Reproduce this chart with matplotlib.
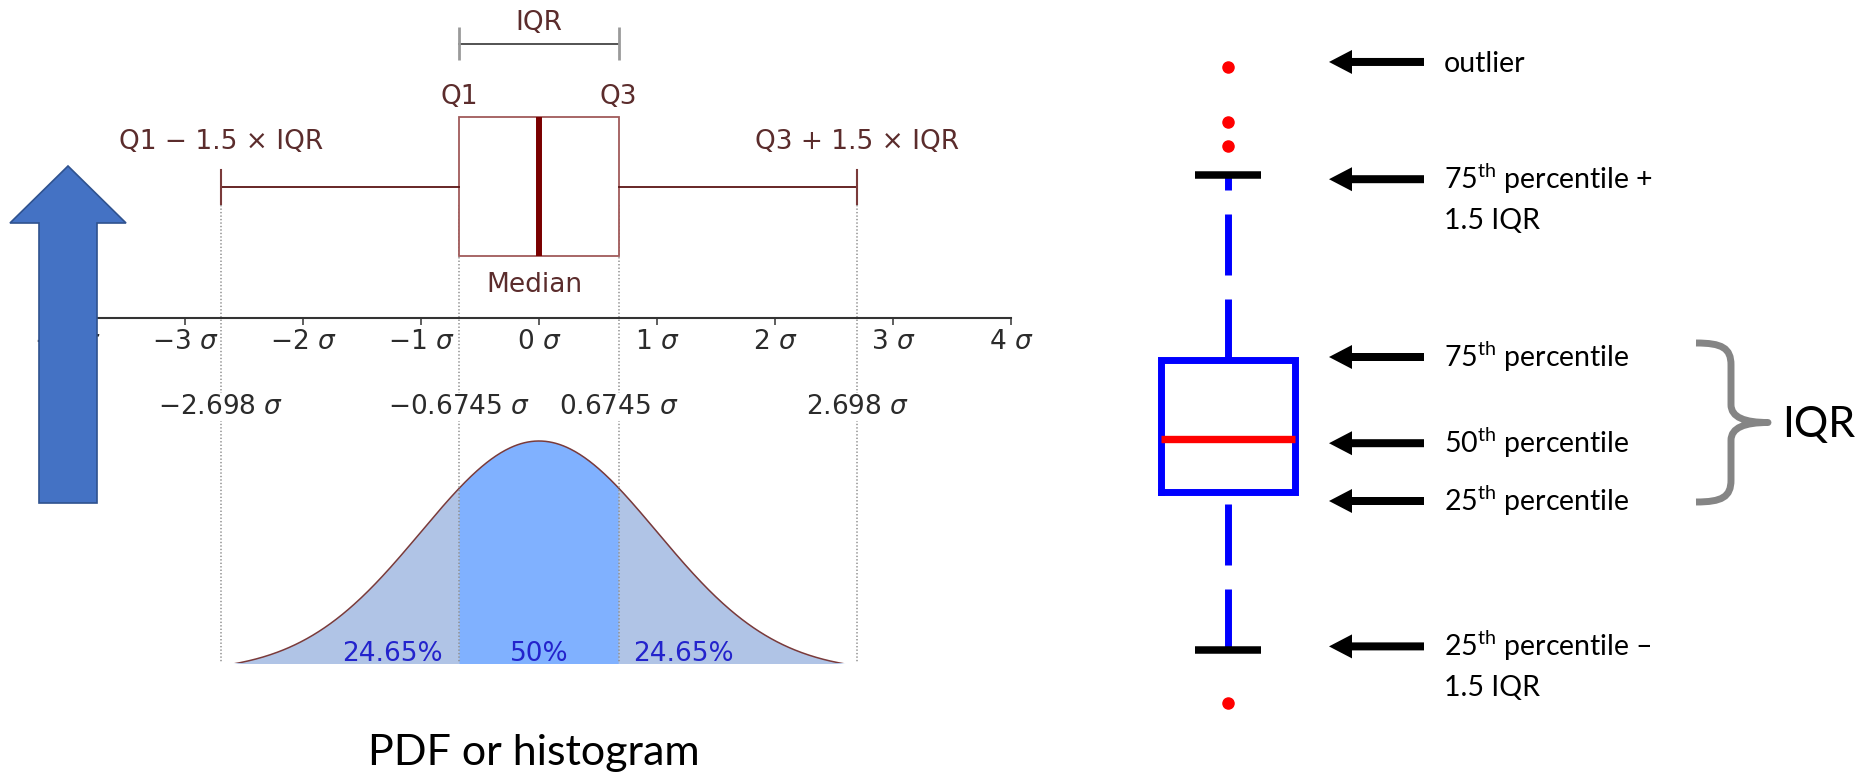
import numpy as np
import matplotlib
matplotlib.use('Agg')
import matplotlib.pyplot as plt
from matplotlib.patches import Polygon, PathPatch
from matplotlib.path import Path

# ---------------- data ----------------
sigma_ticks = [-4, -3, -2, -1, 0, 1, 2, 3, 4]
sigma_tick_labels = ['−4 $\\sigma$', '−3 $\\sigma$', '−2 $\\sigma$', '−1 $\\sigma$', '0 $\\sigma$',
                     '1 $\\sigma$', '2 $\\sigma$', '3 $\\sigma$', '4 $\\sigma$']
quantile_marks = [-2.698, -0.6745, 0.6745, 2.698]
quantile_labels = ['−2.698 $\\sigma$', '−0.6745 $\\sigma$', '0.6745 $\\sigma$', '2.698 $\\sigma$']
normal_q1, normal_median, normal_q3 = -0.6745, 0.0, 0.6745
normal_whislo, normal_whishi = -2.698, 2.698
area_labels = ['24.65%', '50%', '24.65%']

right_q1, right_median, right_q3 = 25, 45, 75
right_whislo, right_whishi = -35, 145
right_outliers = [186, 165, 156, -55]
right_labels = ['outlier',
                '75$^{\\mathrm{th}}$ percentile +\n1.5 IQR',
                '75$^{\\mathrm{th}}$ percentile',
                '50$^{\\mathrm{th}}$ percentile',
                '25$^{\\mathrm{th}}$ percentile',
                '25$^{\\mathrm{th}}$ percentile –\n1.5 IQR']

caption = 'PDF or histogram'

# ---------------- layout ----------------
W, H = 1864, 773
PT = 0.72                     # points per pixel at dpi=100
Z0_PX, PX_PER_SIGMA = 539, 118
LEFT_W = 1100
AXIS_PY = 318

plt.rcParams['mathtext.fontset'] = 'custom'
plt.rcParams['mathtext.rm'] = 'Lato'
plt.rcParams['mathtext.it'] = 'DejaVu Sans:italic'
plt.rcParams['lines.scale_dashes'] = False

fig = plt.figure(figsize=(W / 100, H / 100), dpi=100)

sig_lo = (0 - Z0_PX) / PX_PER_SIGMA
sig_hi = (LEFT_W - Z0_PX) / PX_PER_SIGMA

# ---- PDF axes (bottom-left) ----
PDF_TOP_PY, PDF_CROP_PY, PDF_BASE_PY, PDF_PEAK_PY = 430, 663, 672, 441
peak = 1 / np.sqrt(2 * np.pi)
dens_per_px = peak / (PDF_BASE_PY - PDF_PEAK_PY)
ax_pdf = fig.add_axes([0, 1 - PDF_CROP_PY / H, LEFT_W / W, (PDF_CROP_PY - PDF_TOP_PY) / H], zorder=0)
ax_pdf.set_xlim(sig_lo, sig_hi)
ax_pdf.set_ylim((PDF_BASE_PY - PDF_CROP_PY) * dens_per_px, (PDF_BASE_PY - PDF_TOP_PY) * dens_per_px)
ax_pdf.axis('off')


def normal_pdf(x):
    return np.exp(-x ** 2 / 2) / np.sqrt(2 * np.pi)


for a, b, col in [(-4, normal_q1, '#b0c4e6'), (normal_q1, normal_q3, '#80b1ff'), (normal_q3, 4, '#b0c4e6')]:
    zz = np.linspace(a, b, 300)
    ax_pdf.fill_between(zz, 0, normal_pdf(zz), color=col, lw=0.6, edgecolor=col)
z = np.linspace(-4, 4, 800)
ax_pdf.plot(z, normal_pdf(z), color='#7a3a3a', lw=1.1)

# ---- left main axes ----
ax_L = fig.add_axes([0, 0, LEFT_W / W, 1], zorder=1)
ax_L.patch.set_visible(False)
ax_L.set_xlim(sig_lo, sig_hi)
ax_L.set_ylim(H, 0)
for s in ['top', 'left', 'right']:
    ax_L.spines[s].set_visible(False)
ax_L.spines['bottom'].set_position(('data', AXIS_PY))
ax_L.spines['bottom'].set_bounds((97 - Z0_PX) / PX_PER_SIGMA, sigma_ticks[-1])
ax_L.spines['bottom'].set_color('#333333')
ax_L.spines['bottom'].set_linewidth(1.5)
ax_L.set_yticks([])
ax_L.set_xticks(sigma_ticks)
ax_L.set_xticklabels(sigma_tick_labels)
fs = 19
ax_L.tick_params(axis='x', direction='out', length=5, width=1.1, color='#333333',
                 labelsize=fs, labelcolor='#2b2b2b', pad=3)

# dotted guide lines
ax_L.vlines(quantile_marks, 205, PDF_CROP_PY, colors='#8f8f8f', linestyles=(0, (1, 1.5)), lw=1.1)

# box plot of the normal distribution
BOX_CY, BOX_H, CAP_H = 186.5, 139, 34
stats = [dict(med=normal_median, q1=normal_q1, q3=normal_q3,
              whislo=normal_whislo, whishi=normal_whishi, fliers=[])]
ax_L.bxp(stats, positions=[BOX_CY], widths=BOX_H, capwidths=CAP_H,
         orientation='horizontal', showfliers=False, patch_artist=True,
         boxprops=dict(facecolor='white', edgecolor='#a05a5a', linewidth=1.3),
         medianprops=dict(color='#7a0000', linewidth=4.3, solid_capstyle='butt'),
         whiskerprops=dict(color='#5a1515', linewidth=1.3),
         capprops=dict(color='#7a3a3a', linewidth=1.5), manage_ticks=False)

lab_col = '#5b2c2c'
# IQR bracket
ax_L.plot([normal_q1, normal_q3], [44, 44], color='#444444', lw=1.3)
ax_L.vlines([normal_q1, normal_q3], 27, 60, colors='#9a9a9a', lw=2)
ax_L.text((normal_q1 + normal_q3) / 2, 23, 'IQR', ha='center', va='center', fontsize=fs, color=lab_col)
ax_L.text(normal_q1, 97, 'Q1', ha='center', va='center', fontsize=fs, color=lab_col)
ax_L.text(normal_q3, 97, 'Q3', ha='center', va='center', fontsize=fs, color=lab_col)
ax_L.text(normal_whislo, 142, 'Q1 − 1.5 × IQR', ha='center', va='center', fontsize=fs, color=lab_col)
ax_L.text(normal_whishi, 142, 'Q3 + 1.5 × IQR', ha='center', va='center', fontsize=fs, color=lab_col)
ax_L.text(normal_median - 0.04, 285, 'Median', ha='center', va='center', fontsize=fs, color=lab_col)

for q, lab in zip(quantile_marks, quantile_labels):
    ax_L.text(q, 407, lab, ha='center', va='center', fontsize=fs, color='#2b2b2b',
              bbox=dict(facecolor='white', edgecolor='none', pad=1))

area_x = [-1.24, 0.0, 1.22]
for xa, lab in zip(area_x, area_labels):
    ax_L.text(xa, 661, lab, ha='center', va='baseline', fontsize=fs, color='#2323cc')

# ---- right box plot ----
Q1_PX, Q3_PX = 492, 360
ppu = (Q1_PX - Q3_PX) / (right_q3 - right_q1)
v_top = right_q1 + Q1_PX / ppu
v_bot = v_top - H / ppu
RX0 = LEFT_W
ax_R = fig.add_axes([RX0 / W, 0, (W - RX0) / W, 1], zorder=2)
ax_R.set_xlim(RX0, W)
ax_R.set_ylim(v_bot, v_top)
ax_R.axis('off')

BOX_X = 1228
rstats = [dict(med=right_median, q1=right_q1, q3=right_q3, whislo=right_whislo,
               whishi=right_whishi, fliers=right_outliers)]
res = ax_R.bxp(rstats, positions=[BOX_X], widths=134, capwidths=66, manage_ticks=False,
               boxprops=dict(color='#0000ff', linewidth=5.0, solid_joinstyle='miter'),
               medianprops=dict(color='#ff0000', linewidth=5.3, solid_capstyle='butt'),
               whiskerprops=dict(color='#0000ff', linewidth=5.0, dash_capstyle='butt'),
               capprops=dict(color='black', linewidth=5.4, solid_capstyle='butt'),
               flierprops=dict(marker='o', markerfacecolor='#ff0000', markeredgecolor='#ff0000',
                               markersize=8))
lo_w, hi_w = res['whiskers']
xd, yd = lo_w.get_data()
lo_w.set_data(xd[::-1], yd[::-1])
for wl in res['whiskers']:
    wl.set_dashes([61 * PT, 24 * PT])
    wl.set_zorder(1.5)

ref_values = [max(right_outliers), right_whishi, right_q3, right_median, right_q1, right_whislo]
ARROW_NUDGE_PX = [-5, 4, -3, 4, 9, -4]
TIP_X, TAIL_X, TEXT_X = 1329, 1424, 1444
rfs = 20.5
for val, nudge, lab in zip(ref_values, ARROW_NUDGE_PX, right_labels):
    y = val - nudge / ppu
    ax_R.annotate('', xy=(TIP_X, y), xytext=(TAIL_X, y),
                  arrowprops=dict(facecolor='black', edgecolor='none', width=8 * PT,
                                  headwidth=24 * PT, headlength=23 * PT, shrink=0))
    for i, line in enumerate(lab.split('\n')):
        ax_R.annotate(line, xy=(TEXT_X, y), xytext=(0, -(10 + 40 * i) * PT),
                      textcoords='offset points', va='baseline', ha='left',
                      fontsize=rfs, family='Lato', color='black')


# curly brace spanning the IQR
def px2v(py):
    return v_top - py / ppu


top_py = (v_top - right_q3) * ppu - 17
bot_py = (v_top - right_q1) * ppu + 10
mid_py = (top_py + bot_py) / 2
bx0, bxv, bxt = 1696, 1731, 1768
verts = [(bx0, top_py), (bx0 + 26, top_py), (bxv, top_py + 5), (bxv, top_py + 22),
         (bxv, mid_py - 18),
         (bxv, mid_py - 5), (bxv + 14, mid_py), (bxt, mid_py),
         (bxv + 14, mid_py), (bxv, mid_py + 5), (bxv, mid_py + 18),
         (bxv, bot_py - 22),
         (bxv, bot_py - 5), (bx0 + 26, bot_py), (bx0, bot_py)]
codes = [Path.MOVETO, Path.CURVE4, Path.CURVE4, Path.CURVE4,
         Path.LINETO,
         Path.CURVE4, Path.CURVE4, Path.CURVE4,
         Path.CURVE4, Path.CURVE4, Path.CURVE4,
         Path.LINETO,
         Path.CURVE4, Path.CURVE4, Path.CURVE4]
verts = [(x, px2v(py)) for x, py in verts]
ax_R.add_patch(PathPatch(Path(verts, codes), facecolor='none', edgecolor='#858585',
                         lw=5.0, capstyle='butt', joinstyle='round'))
ax_R.text(1782, px2v(mid_py + 15), 'IQR', ha='left', va='baseline', fontsize=31,
          family='Lato', color='black')

# ---- overlay: big blue arrow and caption ----
ax_px = fig.add_axes([0, 0, 1, 1], zorder=5)
ax_px.set_xlim(0, W)
ax_px.set_ylim(H, 0)
ax_px.axis('off')
arrow_shape = [(68, 166), (126, 223), (97, 223), (97, 503), (39, 503), (39, 223), (10, 223)]
ax_px.add_patch(Polygon(arrow_shape, closed=True, facecolor='#4472c4', edgecolor='#2f528f', lw=1.2))
ax_px.text(534, 765, caption, ha='center', va='baseline', fontsize=31, family='Lato', color='black')

fig.savefig('out.png', dpi=100)
